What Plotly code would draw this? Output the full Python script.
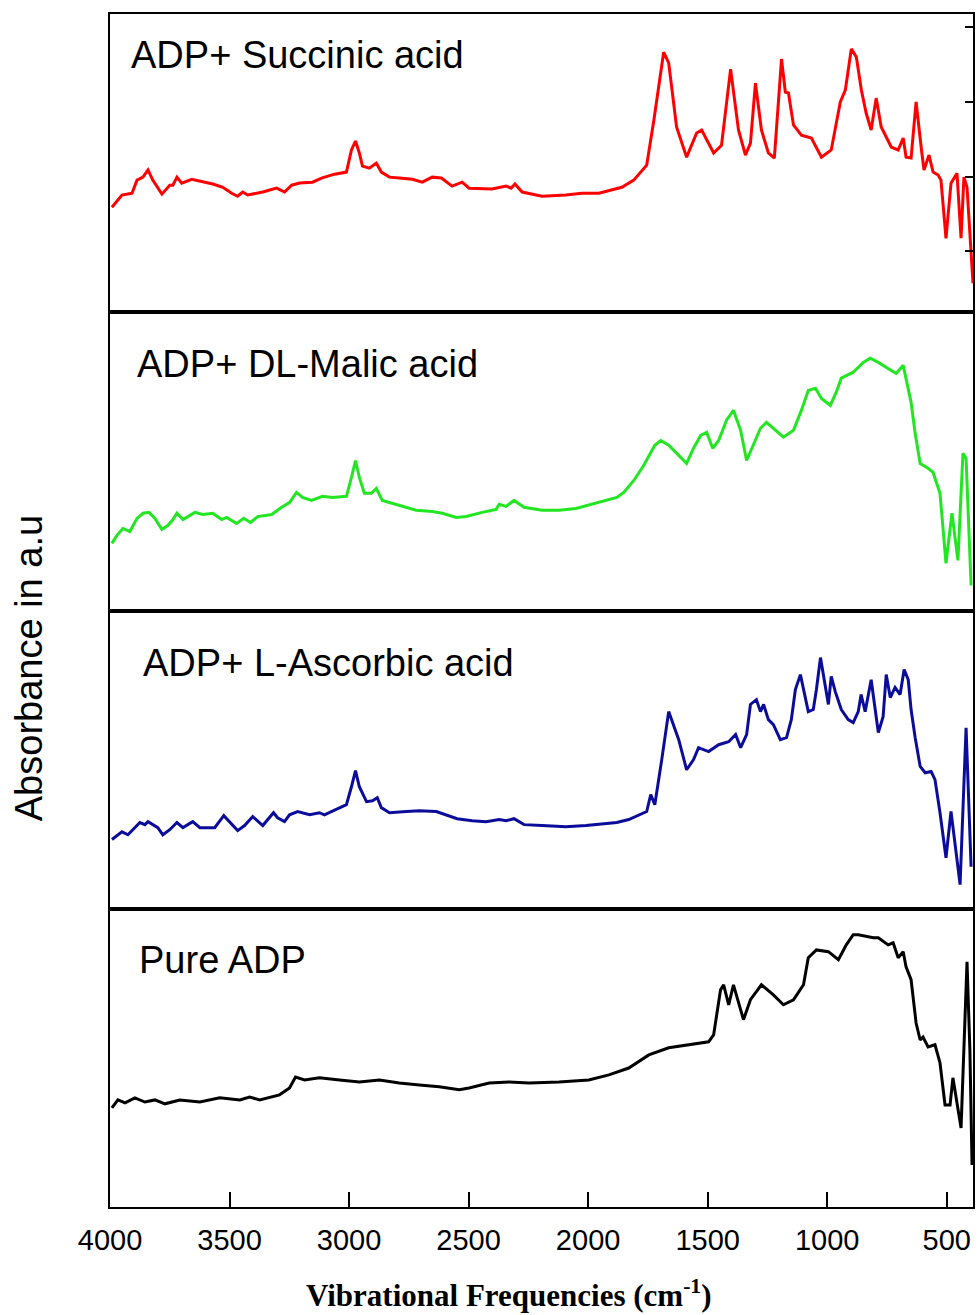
import plotly.graph_objects as go
from plotly.subplots import make_subplots

# ---------------- data (wavenumber in cm^-1, absorbance in a.u., per panel) -------------
red_wn = [3992,3950,3908,3887,3862,3841,3821,3783,3750,3737,3720,3700,3658,3624,3570,3528,3491,3466,3445,3424,
          3361,3303,3270,3240,3207,3153,3115,3061,3011,2990,2973,2957,2944,2915,2886,2865,2831,2790,2735,2694,
          2652,2614,2569,2527,2498,2402,2343,2322,2306,2276,2193,2093,2026,1955,
          1859,1809,1755,1725,1684,1663,1630,1588,1546,1525,1475,1442,1404,1371,1342,1321,1300,1275,1246,1221,
          1191,1175,1162,1141,1108,1066,1024,983,945,924,899,878,857,837,816,795,774,732,703,682,
          670,649,628,607,595,574,557,536,524,503,482,457,440,428,415,390]
red_abs = [35.2,39.3,39.9,44.3,45.3,47.7,44.3,39.6,42.6,42.6,45.3,43.3,44.6,44.0,43.0,41.9,39.9,38.9,40.3,39.3,
           40.3,41.6,40.3,42.6,43.3,43.6,45.0,46.3,47.0,54.4,57.4,53.4,49.0,48.3,50.0,47.0,45.3,45.0,44.6,43.6,
           45.3,45.0,42.3,43.6,41.6,41.3,42.3,41.6,43.0,40.3,38.9,39.3,39.9,39.9,
           41.9,44.3,49.3,64.4,87.2,83.6,62.1,52.0,60.1,61.1,53.4,56.0,81.5,61.1,52.7,56.7,76.8,61.1,53.4,51.7,
           84.9,73.8,73.5,62.8,59.4,58.4,52.0,54.4,70.5,74.5,88.3,85.6,74.5,66.8,61.1,71.8,62.1,55.4,54.4,58.4,
           52.0,51.7,70.5,55.4,47.7,52.7,47.0,46.0,44.3,24.8,43.3,46.6,24.8,45.3,41.9,9.7]

green_wn = [3992,3971,3946,3917,3887,3862,3837,3812,3783,3758,3737,3720,3695,3645,3612,3570,3533,3512,3491,3470,
            3441,3412,3382,3324,3282,3249,3220,3195,3157,3111,3069,3011,2990,2973,2957,2936,2907,2886,2861,2831,
            2790,2719,2652,2610,2552,2510,2443,2385,2372,2343,2310,2268,2193,2122,2051,1984,1926,1880,
            1851,1809,1767,1746,1721,1696,1663,1621,1588,1559,1529,1504,1479,1454,1421,1392,1362,1337,1308,1279,
            1254,1225,1183,1141,1108,1079,1049,1024,987,962,941,891,849,820,786,
            732,711,682,661,649,632,611,578,557,528,503,478,453,432,419,398]
green_abs = [22.5,25.2,27.5,26.5,30.9,32.6,32.9,30.9,27.2,28.5,30.5,32.6,30.5,32.9,32.2,32.6,30.5,31.2,30.2,29.2,
             30.9,29.5,31.5,32.2,34.6,36.2,39.6,37.9,36.9,38.3,37.9,38.3,44.6,50.3,44.6,39.3,39.3,40.9,36.9,36.2,
             35.2,33.6,33.2,32.6,31.2,31.5,32.9,33.9,35.6,34.9,36.9,34.6,33.6,33.6,34.2,35.6,36.9,37.9,
             39.6,43.6,48.7,52.0,55.4,57.0,55.4,52.0,49.3,54.4,58.7,59.7,54.4,57.0,63.8,67.1,60.4,50.3,55.4,61.1,
             63.1,61.1,58.1,60.4,67.1,73.8,74.5,71.1,68.8,73.2,77.9,79.9,83.2,84.6,83.2,
             80.5,79.5,82.2,74.5,69.8,59.4,49.3,47.7,46.3,39.3,15.8,32.6,16.8,52.7,51.0,8.4]

blue_wn = [3992,3950,3925,3875,3854,3841,3800,3779,3750,3720,3695,3654,3624,3562,3524,3499,3466,3437,3403,3361,
           3316,3299,3270,3249,3215,3165,3124,3103,3053,3011,2990,2973,2957,2927,2902,2882,2865,2831,2760,2706,
           2635,2594,2548,2485,2427,2372,2343,2310,2268,2193,2093,2009,1943,1880,
           1830,1788,1755,1738,1721,1692,1663,1621,1588,1559,1538,1496,1454,1412,1383,1362,1337,1321,1296,1279,
           1266,1246,1225,1196,1170,1150,1133,1112,1099,1079,1058,1045,1028,1012,995,983,966,941,912,891,
           870,858,841,816,799,
           786,766,753,736,716,695,678,661,649,632,611,590,565,549,528,503,482,444,419,398]
blue_abs = [23.2,25.8,24.8,28.9,28.2,29.2,27.2,24.8,26.5,28.9,27.2,29.2,27.2,27.2,31.2,28.9,26.2,27.9,30.9,27.9,
            32.2,30.5,29.2,31.5,32.6,31.5,32.2,31.5,33.2,34.9,40.9,46.3,40.9,35.9,36.2,37.2,33.9,32.2,32.6,32.9,
            32.6,31.5,30.2,29.5,29.2,29.9,29.5,30.2,28.2,27.9,27.5,27.9,28.5,28.9,
            29.9,31.5,32.6,38.3,34.9,50.0,66.1,56.7,46.6,50.0,54.0,52.7,55.0,56.0,58.4,54.0,58.4,68.5,70.1,66.1,
            68.5,63.4,61.7,56.7,57.4,63.4,73.5,78.5,73.5,66.1,66.8,73.5,84.2,76.8,68.5,77.9,72.8,66.8,63.4,62.4,
            66.1,71.8,66.1,76.8,66.8,
            59.1,64.4,78.5,70.8,74.2,71.8,80.2,76.8,66.8,57.4,47.7,45.6,46.0,43.3,32.2,17.1,32.6,8.1,60.7,14.1]

black_wn = [3992,3967,3937,3896,3854,3812,3770,3708,3624,3541,3457,3416,3374,3291,3249,3224,3186,3124,3040,2957,
            2873,2790,2706,2623,2539,2498,2414,2331,2247,2122,1997,1913,1830,1746,1663,1579,1496,1475,1446,1433,
            1412,1392,1350,1321,1275,1225,1183,1141,1099,1079,1045,995,953,920,891,870,807,786,745,724,
            703,682,670,649,628,611,599,578,549,528,507,486,474,440,415,403,394]
black_abs = [33.2,35.9,34.9,36.6,35.2,35.9,34.6,35.9,35.2,36.6,35.9,36.9,35.9,37.6,39.9,43.6,42.6,43.3,42.6,41.9,
             42.6,41.6,40.9,40.3,39.3,39.9,41.6,41.9,41.6,41.9,42.6,44.3,46.6,51.0,53.4,54.4,55.4,57.7,72.8,74.5,
             67.8,74.5,62.8,69.5,74.5,71.1,67.8,69.5,74.5,83.6,86.2,85.6,82.9,87.9,91.3,91.3,90.3,90.3,87.9,88.6,
             83.6,85.6,80.5,76.2,61.7,56.0,57.0,53.7,54.4,48.3,34.2,34.2,43.3,26.5,82.2,52.7,14.1]

panel_labels = ["ADP+ Succinic acid", "ADP+ DL-Malic acid", "ADP+ L-Ascorbic acid", "Pure ADP"]
x_ticks = [4000, 3500, 3000, 2500, 2000, 1500, 1000, 500]
x_tick_text = ["4000", "3500", "3000", "2500", "2000", "1500", "1000", "500"]

# ---------------- figure -------------
series = [
    (red_wn, red_abs, "#ff0000"),
    (green_wn, green_abs, "#22e622"),
    (blue_wn, blue_abs, "#0c0c9a"),
    (black_wn, black_abs, "#000000"),
]

fig = make_subplots(rows=4, cols=1, shared_xaxes=True, vertical_spacing=0)

for i, (wn, ab, col) in enumerate(series):
    fig.add_trace(go.Scatter(x=wn, y=ab, mode="lines", line=dict(color=col, width=3),
                             showlegend=False, hoverinfo="skip"), row=i + 1, col=1)

for r in range(1, 5):
    fig.update_xaxes(range=[4000, 390], showline=True, mirror=True, linecolor="black", linewidth=2,
                     showgrid=False, zeroline=False, ticks="", showticklabels=False, row=r, col=1)
    fig.update_yaxes(range=[0, 100], showline=True, mirror=True, linecolor="black", linewidth=2,
                     showgrid=False, zeroline=False, ticks="", showticklabels=False, row=r, col=1)

fig.update_xaxes(ticks="inside", ticklen=15, tickwidth=2, tickcolor="black",
                 tickvals=x_ticks, ticktext=x_tick_text, showticklabels=True,
                 tickfont=dict(family="Liberation Sans, Arial", size=29, color="black"),
                 ticklabelstandoff=6, row=4, col=1)

fig.update_yaxes(side="right", ticks="inside", ticklen=8, tickwidth=2, tickcolor="black",
                 tickvals=[20.5, 45.5, 70.5, 95.5], row=1, col=1)

label_pos = [(0.0220, 0.9656), (0.0289, 0.7066), (0.0359, 0.456), (0.0312, 0.207)]
for txt, (px, py) in zip(panel_labels, label_pos):
    fig.add_annotation(text=txt, xref="paper", yref="paper", x=px, y=py, xanchor="left", yanchor="middle",
                       showarrow=False, font=dict(family="Liberation Sans, Arial", size=38, color="black"))

fig.add_annotation(text="Absorbance in a.u", xref="paper", yref="paper", x=-0.0936, y=0.4518,
                   xanchor="center", yanchor="middle", textangle=-90, showarrow=False,
                   font=dict(family="Liberation Sans, Arial", size=38, color="black"))

fig.add_annotation(text="<b>Vibrational Frequencies (cm<sup>-1</sup>)</b>", xref="paper", yref="paper",
                   x=0.4624, y=-0.0729, xanchor="center", yanchor="middle", showarrow=False,
                   font=dict(family="Liberation Serif, Times New Roman, serif", size=31, color="black"))

fig.update_layout(width=980, height=1315, margin=dict(l=110, r=5, t=14, b=108),
                  paper_bgcolor="white", plot_bgcolor="white")

fig.write_html("out.html")
